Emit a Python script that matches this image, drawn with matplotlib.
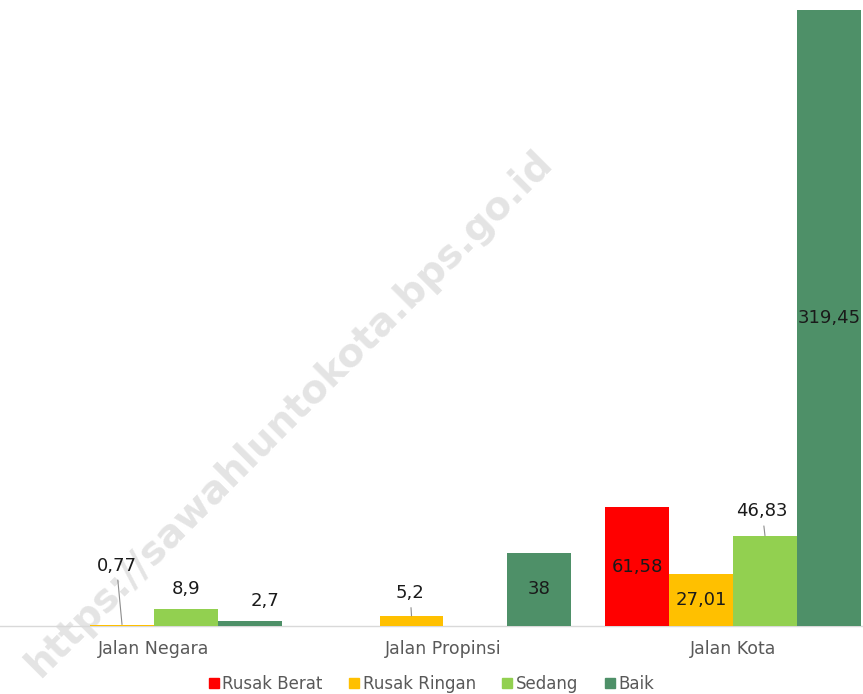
import numpy as np
import matplotlib.pyplot as plt
from matplotlib.lines import Line2D

kategori = ['Jalan Negara', 'Jalan Propinsi', 'Jalan Kota']
seri = ['Rusak Berat', 'Rusak Ringan', 'Sedang', 'Baik']
warna = ['#FF0000', '#FFC000', '#92D050', '#4E9068']

rusak_berat = [np.nan, np.nan, 61.58]
rusak_ringan = [0.77, 5.2, 27.01]
sedang = [8.9, np.nan, 46.83]
baik = [2.7, 38, 319.45]
nilai = [rusak_berat, rusak_ringan, sedang, baik]

# posisi label: 'in' = tengah batang, (jenis, dx, dy) = offset di atas batang, garis jika 'lead'
posisi = [
    [None, None, 'in'],
    [('lead', -4, 36), ('lead', -1, 10), 'in'],
    [('up', 0, 8), None, ('lead', -2, 11)],
    [('up', 11, 8), 'in', 'in'],
]

fig = plt.figure(figsize=(8.63, 6.94), dpi=100)
ax = fig.add_axes([9.25 / 863, 68 / 694, 868.5 / 863, 626 / 694])
ax.set_facecolor('none')

x = np.arange(len(kategori))
w = 0.221

for i, (nama, vals, c) in enumerate(zip(seri, nilai, warna)):
    xs = x + (i - 1.5) * w
    ax.bar(xs, vals, width=w, color=c, label=nama, zorder=2)
    for xi, v, p in zip(xs, vals, posisi[i]):
        if p is None or np.isnan(v):
            continue
        teks = f'{v:g}'.replace('.', ',')
        if p == 'in':
            ax.text(xi, v / 2, teks, ha='center', va='center', fontsize=13, color='#1a1a1a', zorder=4)
            continue
        jenis, dx, dy = p
        arrow = None
        if jenis == 'lead':
            arrow = dict(arrowstyle='-', color='#8c8c8c', lw=0.8, shrinkA=2, shrinkB=0)
        ax.annotate(teks, (xi, v), xytext=(dx, dy), textcoords='offset points',
                    ha='center', va='bottom', fontsize=13, color='#1a1a1a', zorder=4,
                    arrowprops=arrow)

ax.set_xlim(-0.5, 2.5)
ax.set_ylim(0, 319.45 * 626 / 616)
ax.set_xticks(x)
ax.set_xticklabels(kategori, fontsize=12.5, color='#595959')
ax.tick_params(axis='x', length=0, pad=10)
ax.set_yticks([])
for s in ['top', 'right', 'left', 'bottom']:
    ax.spines[s].set_visible(False)
ax.axhline(0, xmin=-0.02, xmax=1.0, color='#d9d9d9', lw=1, clip_on=False, zorder=1)

handles = [Line2D([], [], marker='s', linestyle='', color=c, markersize=7.5) for c in warna]
fig.legend(handles, seri, loc='center', bbox_to_anchor=(0.5, 10 / 694), ncol=4, frameon=False,
           fontsize=12, handlelength=0.6, handletextpad=0.2, columnspacing=1.6,
           labelcolor='#595959')

# watermark di belakang grafik
fig.text(0.335, 0.405, 'https://sawahluntokota.bps.go.id', rotation=45, ha='center', va='center',
         fontsize=28, fontweight='bold', color='#e4e4e4', zorder=-1)

fig.savefig('out.png', dpi=100)
